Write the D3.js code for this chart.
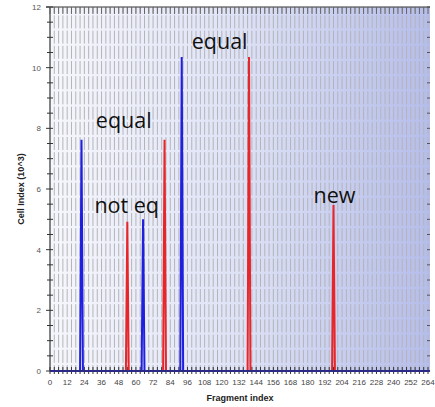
<!DOCTYPE html>
<html>
<head>
<meta charset="utf-8">
<script src="https://cdn.jsdelivr.net/npm/d3@7"></script>
<style>
  html, body { margin: 0; padding: 0; background: #fff; }
  svg { display: block; }
</style>
</head>
<body>
<svg id="chart" width="435" height="407"></svg>
<script>
// Fragment indices where each series leaves the baseline, and the peak heights (x10^3)
const bluePeakFragments = [22, 65, 92];
const bluePeakValues = [7.62, 5.0, 10.35];
const redPeakFragments = [54, 80, 139, 198];
const redPeakValues = [4.92, 7.62, 10.35, 5.47];

// Text annotations placed over the peaks
const noteTexts = ["equal", "not eq", "equal", "new"];
const noteFragments = [32, 31, 99, 184];
const noteValues = [8.0, 5.2, 10.6, 5.55];

// Axis tick labels
const xTickLabels = d3.range(0, 265, 12);
const yTickLabels = [0, 2, 4, 6, 8, 10, 12];

const width = 435, height = 407;
const margin = { top: 7, right: 5, bottom: 36, left: 50 };
const svg = d3.select("#chart");

const x = d3.scaleLinear().domain([0, 264]).range([margin.left, 428]);
const y = d3.scaleLinear().domain([0, 12]).range([371, margin.top]);
const plotRight = 430;

// Background gradient of the plot area
const defs = svg.append("defs");
const grad = defs.append("linearGradient").attr("id", "bg")
  .attr("x1", "0").attr("x2", "1").attr("y1", "0").attr("y2", "0");
grad.append("stop").attr("offset", "0").attr("stop-color", "#f6f7fc");
grad.append("stop").attr("offset", "0.5").attr("stop-color", "#dee2f6");
grad.append("stop").attr("offset", "1").attr("stop-color", "#b5bdeb");

svg.append("rect")
  .attr("x", margin.left).attr("y", y(12))
  .attr("width", plotRight - margin.left).attr("height", y(0) - y(12))
  .attr("fill", "url(#bg)");

// Dashed vertical grid, one line every 3 fragments
const gridX = d3.range(3, 265, 3);
svg.append("g").selectAll("line").data(gridX).join("line")
  .attr("x1", d => x(d)).attr("x2", d => x(d))
  .attr("y1", y(0)).attr("y2", y(12))
  .attr("stroke", "#b4b4b8").attr("stroke-width", 1)
  .attr("stroke-dasharray", "13,2.2")
  .attr("stroke-dashoffset", 7);

// Axes
const axisColor = "#333";
const minorY = d3.range(0, 12.01, 0.5);
const minorX = d3.range(0, 265, 3);

const gAx = svg.append("g");
// left axis line + ticks crossing it
gAx.append("line").attr("x1", x(0)).attr("x2", x(0)).attr("y1", y(0)).attr("y2", y(12))
  .attr("stroke", axisColor).attr("stroke-width", 1.2);
gAx.selectAll(".ly").data(minorY).join("line")
  .attr("x1", d => x(0) - (d % 2 === 0 ? 4 : 3)).attr("x2", x(0) + 3)
  .attr("y1", d => y(d)).attr("y2", d => y(d))
  .attr("stroke", axisColor).attr("stroke-width", 1);
// right ticks
gAx.selectAll(".ry").data(minorY).join("line")
  .attr("x1", plotRight - 3).attr("x2", plotRight)
  .attr("y1", d => y(d)).attr("y2", d => y(d))
  .attr("stroke", "#555").attr("stroke-width", 1);
// top line + ticks
gAx.append("line").attr("x1", x(0) - 4).attr("x2", plotRight).attr("y1", y(12)).attr("y2", y(12))
  .attr("stroke", axisColor).attr("stroke-width", 1.2);
gAx.selectAll(".tx").data(minorX).join("line")
  .attr("x1", d => x(d)).attr("x2", d => x(d))
  .attr("y1", y(12)).attr("y2", y(12) + 7)
  .attr("stroke", "#666").attr("stroke-width", 1);
// bottom ticks
gAx.selectAll(".bx").data(minorX).join("line")
  .attr("x1", d => x(d)).attr("x2", d => x(d))
  .attr("y1", y(0) - 4).attr("y2", y(0) + 3)
  .attr("stroke", axisColor).attr("stroke-width", 1);

// tick labels
svg.append("g").selectAll("text").data(yTickLabels).join("text")
  .attr("x", x(0) - 9).attr("y", d => y(d) + 3)
  .attr("text-anchor", "end")
  .attr("font-family", "Liberation Sans, Arial, sans-serif")
  .attr("font-size", 8).attr("fill", "#555")
  .text(d => d);
svg.append("g").selectAll("text").data(xTickLabels).join("text")
  .attr("x", d => x(d)).attr("y", 385)
  .attr("text-anchor", "middle")
  .attr("font-family", "Liberation Sans, Arial, sans-serif")
  .attr("font-size", 8).attr("fill", "#444")
  .text(d => d);

// Axis titles
svg.append("text")
  .attr("x", 240).attr("y", 401)
  .attr("text-anchor", "middle")
  .attr("font-family", "Liberation Sans, Arial, sans-serif")
  .attr("font-size", 9).attr("font-weight", "bold").attr("fill", "#222")
  .text("Fragment index");
svg.append("text")
  .attr("transform", `translate(24, ${(y(0) + y(12)) / 2}) rotate(-90)`)
  .attr("text-anchor", "middle")
  .attr("font-family", "Liberation Sans, Arial, sans-serif")
  .attr("font-size", 9).attr("font-weight", "bold").attr("fill", "#222")
  .text("Cell Index (10^3)");

// Build each series as a per-fragment profile: zero except at its peaks
function profile(frags, vals) {
  const pts = [];
  for (let f = 0; f <= 264; f++) {
    const i = frags.indexOf(f);
    pts.push([f, i >= 0 ? vals[i] : 0]);
  }
  return pts;
}
const line = d3.line().x(d => x(d[0])).y(d => y(d[1]));

svg.append("path").datum(profile(redPeakFragments, redPeakValues))
  .attr("d", line).attr("fill", "none")
  .attr("stroke", "#e8262a").attr("stroke-width", 2).attr("stroke-linejoin", "miter");
svg.append("path").datum(profile(bluePeakFragments, bluePeakValues))
  .attr("d", line).attr("fill", "none")
  .attr("stroke", "#1f1fe0").attr("stroke-width", 2).attr("stroke-linejoin", "miter");

// Baseline
svg.append("line").attr("x1", x(0)).attr("x2", plotRight).attr("y1", y(0)).attr("y2", y(0))
  .attr("stroke", "#2b2a86").attr("stroke-width", 2);

// Annotations
svg.append("g").selectAll("text").data(noteTexts).join("text")
  .attr("x", (d, i) => x(noteFragments[i]))
  .attr("y", (d, i) => y(noteValues[i]))
  .attr("font-family", "Open Sans, sans-serif")
  .attr("font-size", 21.5).attr("fill", "#111")
  .text(d => d);
</script>
</body>
</html>
